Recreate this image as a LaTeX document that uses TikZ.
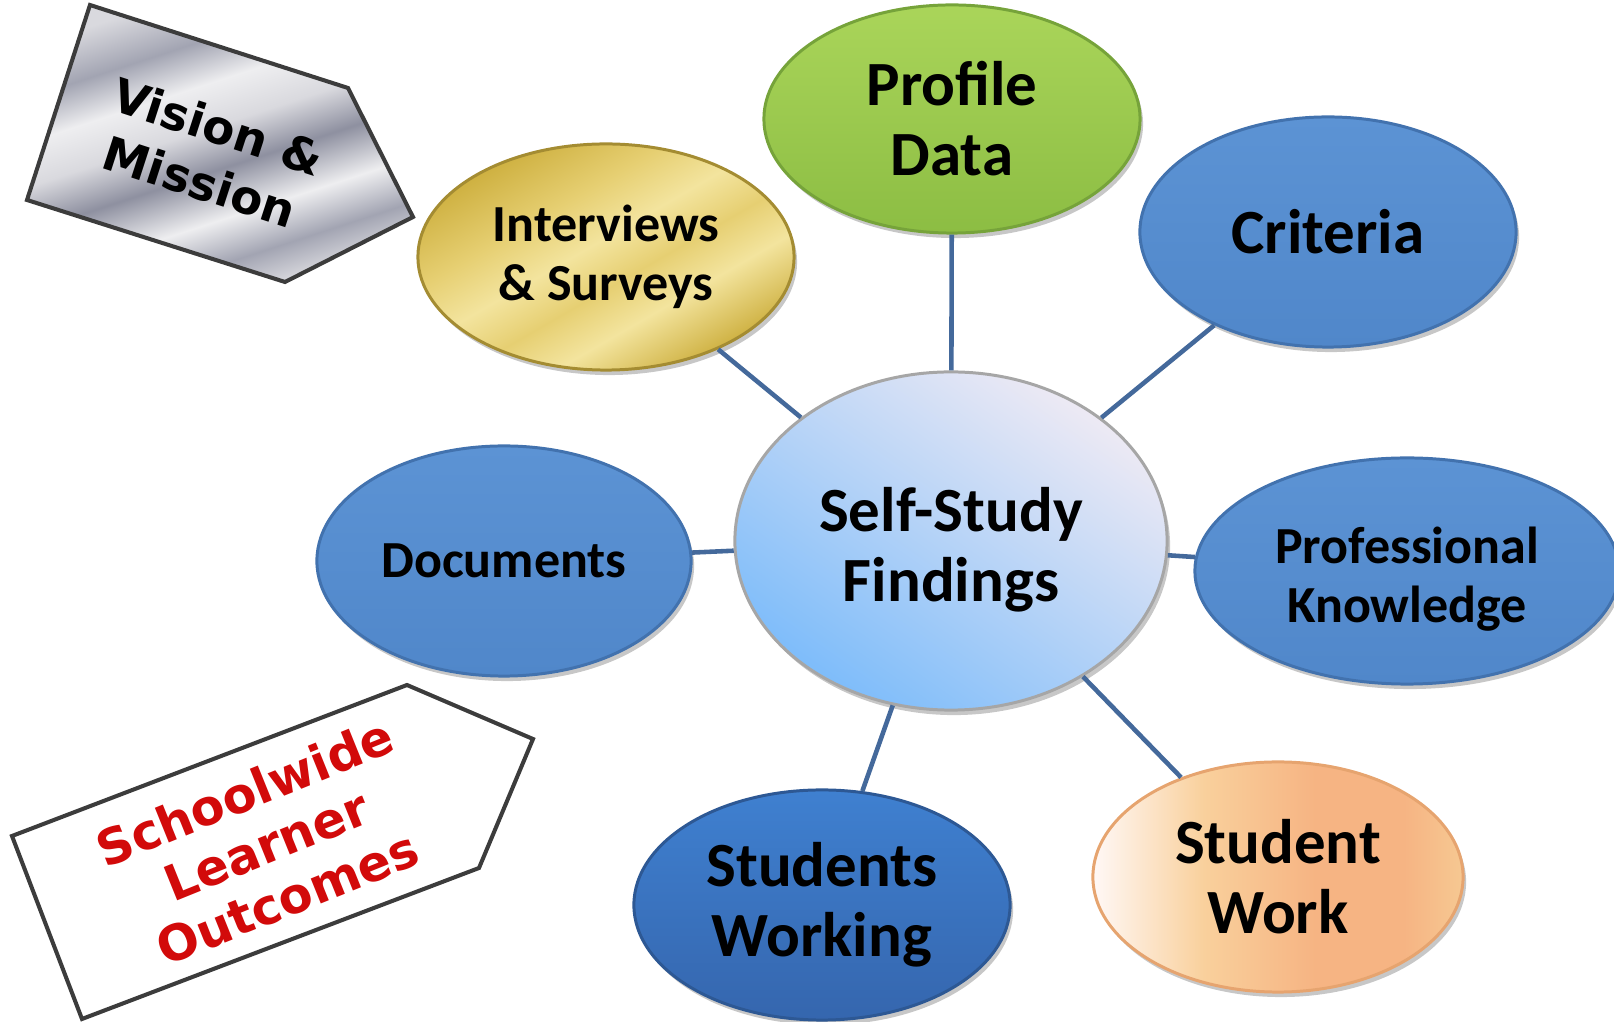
\documentclass[tikz,border=0pt]{standalone}
\usepackage{fontspec}
\setmainfont{Carlito}
\newfontfamily\heavyfont{DejaVu Sans}
\usetikzlibrary{shapes.geometric,shadows}
\definecolor{linec}{HTML}{44699B}
\definecolor{tagc}{HTML}{3C3C3C}
\definecolor{redtxt}{HTML}{D20A0A}
\definecolor{metA}{HTML}{D9D9DE}
\definecolor{metB}{HTML}{A2A4B2}
\definecolor{metC}{HTML}{EEEEF0}
\definecolor{metD}{HTML}{8E90A0}
\definecolor{goldA}{HTML}{CDAF3E}
\definecolor{goldB}{HTML}{F3E49E}
\definecolor{goldC}{HTML}{E6CF72}
\definecolor{peA}{HTML}{FFF8F6}
\definecolor{peB}{HTML}{F9D09C}
\definecolor{peC}{HTML}{F6B483}
\definecolor{peD}{HTML}{F6C892}
\definecolor{HTMLB}{HTML}{4272AE}
\definecolor{blueT}{HTML}{5C93D4}
\definecolor{blueB}{HTML}{5087CA}
\definecolor{greenT}{HTML}{AAD55A}
\definecolor{greenB}{HTML}{8CBD43}
\definecolor{greenD}{HTML}{76A33A}
\definecolor{swT}{HTML}{3F80D0}
\definecolor{swB}{HTML}{3566AE}
\definecolor{swD}{HTML}{2D5894}
\definecolor{ssfT}{HTML}{EEEAF4}
\definecolor{ssfB}{HTML}{7DBCFA}
\pgfdeclarehorizontalshading{metal}{100bp}{color(0bp)=(metA); color(25bp)=(metA); color(33bp)=(metB); color(40bp)=(metC); color(47bp)=(metA); color(54bp)=(metD); color(62bp)=(metC); color(69bp)=(metB); color(75bp)=(metA); color(100bp)=(metA)}
\pgfdeclarehorizontalshading{goldsh}{100bp}{color(0bp)=(goldA); color(25bp)=(goldA); color(38bp)=(goldC); color(47bp)=(goldB); color(55bp)=(goldC); color(63bp)=(goldB); color(75bp)=(goldA); color(100bp)=(goldA)}
\pgfdeclarehorizontalshading{peach}{100bp}{color(0bp)=(peA); color(25bp)=(peA); color(40bp)=(peB); color(55bp)=(peC); color(67bp)=(peC); color(75bp)=(peD); color(100bp)=(peD)}
\tikzset{
  bub/.style={ellipse, inner sep=0pt, align=center, line width=0.85pt,
    font=\bfseries\fontsize{17.9}{19.9}\selectfont,
    drop shadow={shadow xshift=0.03cm, shadow yshift=-0.05cm, opacity=0.22, fill=black}},
  smalltext/.style={font=\bfseries\fontsize{14.8}{16.6}\selectfont},
  bluebub/.style={bub, draw=HTMLB, top color=blueT, bottom color=blueB},
  conn/.style={draw=linec, line width=1.3pt},
  tag/.style={draw=tagc, line width=1.15pt, line join=miter},
  tagtext/.style={align=center, font=\heavyfont\bfseries\fontsize{13.3}{16.5}\selectfont},
}
\begin{document}
\begin{tikzpicture}[x=0.01cm,y=-0.01cm]
\useasboundingbox (0,0) rectangle (1614,1022);
\clip (0,0) rectangle (1614,1022);

% tags
\draw[tag, shading=metal, shading angle=-72] (90,5) -- (348,88) -- (413,217) -- (285,282) -- (27,200) -- cycle;
\node[tagtext, rotate=-18] (vm) at (209,154) {Vision \&\\Mission};
\draw[tag, fill=white] (12,836) -- (407,685) -- (533,739) -- (479,868) -- (82,1019) -- cycle;
\node[tagtext, text=redtxt, rotate=22, font=\heavyfont\bfseries\fontsize{14}{16.2}\selectfont] (slo) at (266,845) {Schoolwide\\Learner\\Outcomes};

% bubbles
\node[bub, top color=ssfT, bottom color=ssfB, shading angle=-35,
      draw=gray!70, minimum width=4.32cm, minimum height=3.38cm] (ssf) at (951,541) {\rule{0pt}{17.5pt}Self-Study\\Findings};
\node[bub, draw=greenD, top color=greenT, bottom color=greenB,
      minimum width=3.76cm, minimum height=2.28cm] (prof) at (952,119) {Profile\\Data};
\node[bub, draw=goldA!80!black, shading=goldsh, shading angle=-60,
      minimum width=3.76cm, minimum height=2.26cm, smalltext] (inter) at (606,257) {Interviews\\\& Surveys};
\node[bluebub, minimum width=3.76cm, minimum height=2.30cm] (crit) at (1328,232) {Criteria};
\node[bluebub, minimum width=3.74cm, minimum height=2.30cm, smalltext] (docs) at (504,561) {Documents};
\node[bluebub, minimum width=4.24cm, minimum height=2.26cm, smalltext] (pk) at (1407,571) {\rule{0pt}{15pt}Professional\\Knowledge};
\node[bub, draw=swD, top color=swT, bottom color=swB,
      minimum width=3.76cm, minimum height=2.30cm] (sw) at (822,905) {Students\\Working};
\node[bub, draw=peC!70!brown, shading=peach, shading angle=0,
      minimum width=3.70cm, minimum height=2.30cm] (swk) at (1278,877) {Student\\Work};

% connectors
\draw[conn] (ssf) -- (prof);
\draw[conn] (ssf) -- (inter);
\draw[conn] (ssf) -- (crit);
\draw[conn] (ssf) -- (docs);
\draw[conn] (ssf) -- (pk);
\draw[conn] (ssf) -- (sw);
\draw[conn] (ssf) -- (swk);
\end{tikzpicture}
\end{document}
